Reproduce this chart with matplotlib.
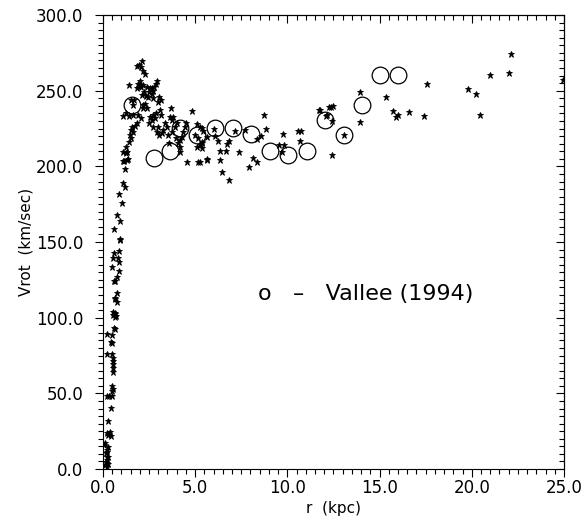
import matplotlib
matplotlib.use("Agg")
import matplotlib.pyplot as plt
from matplotlib.ticker import MultipleLocator, FormatStrFormatter

# rotation curve points (r in kpc, Vrot in km/sec)
star_r = [
    # inner rise
    0.05, 0.11, 0.29, 0.23, 0.16, 0.20, 0.23, 0.20, 0.11, 0.23, 0.29, 0.16, 0.29, 0.20,
    0.23, 0.29, 0.34, 0.38, 0.42, 0.29, 0.43,
    0.20, 0.34, 0.47, 0.49, 0.53, 0.49,
    0.49, 0.53, 0.53, 0.53, 0.53, 0.53, 0.23,
    0.42, 0.47, 0.23, 0.47, 0.65, 0.60,
    0.65, 0.56, 0.70, 0.56, 0.65, 0.65,
    0.65, 0.74, 0.67, 0.74,
    0.78, 0.65, 0.60, 0.85, 0.47,
    0.89, 0.60, 0.56, 0.83, 0.87,
    0.92, 0.90, 0.60, 0.90, 0.74,
    1.01, 0.89, 1.07, 1.19,
    1.10, 1.25, 1.34, 1.10, 1.19, 1.29, 1.25, 1.14, 1.32,
    # peak region
    1.43, 1.46, 1.50, 1.52, 1.56, 1.61, 1.74, 1.83,
    1.25, 1.10, 1.43, 1.61, 1.91, 2.04,
    1.52, 1.70, 1.64,
    2.15, 2.28, 2.19, 2.37,
    2.22, 2.10, 2.32, 2.46, 2.64, 2.73,
    1.43, 2.19, 2.37, 2.55, 2.67, 2.49, 2.78, 2.73, 2.94, 2.87,
    1.99, 1.90, 2.00, 2.06, 1.83,
    2.19, 2.28, 1.86, 1.97, 2.04, 2.13,
    3.05, 3.13, 3.00, 3.67,
    2.55, 2.73, 2.87, 2.64, 2.51, 2.82, 3.09, 3.15,
    3.63, 3.72, 3.81,
    3.36, 3.45, 3.27, 3.00, 3.18, 2.91, 2.73, 3.05,
    3.54, 3.72, 3.90, 4.00, 3.96, 4.18, 4.27, 4.08, 4.18, 4.36, 4.45, 4.50,
    3.58, 4.18, 4.81,
    5.08, 5.26, 4.99, 5.17, 5.35, 5.08, 5.26, 5.62,
    4.54, 5.17, 5.62,
    # flat part
    5.26, 5.35, 5.40, 5.35, 5.35, 5.62,
    6.02, 6.07, 6.22, 6.34, 6.44, 6.83, 6.33, 6.67, 6.75, 6.85, 7.16,
    7.70, 7.39, 8.12, 8.35, 7.93, 8.35, 8.55, 8.75, 8.84,
    9.74, 9.56, 9.82, 9.71, 10.59, 10.75, 10.70,
    11.71, 11.77, 12.13, 12.27, 12.11, 12.36, 12.49, 12.44, 12.42, 13.07,
    13.94, 13.94, 15.33, 15.73, 15.89, 15.98, 16.58, 17.42, 17.57,
    19.80, 20.23, 20.43, 21.00, 22.00, 22.13, 24.96,
]
star_v = [
    15.9, 17.0, 14.7, 12.6, 10.4, 8.1, 6.0, 3.8, 2.6, 1.5, 3.3, 4.8, 8.1, 11.4,
    24.0, 22.5, 23.1, 24.7, 21.8, 31.9, 40.1,
    48.2, 48.2, 48.2, 54.9, 52.7, 51.6,
    75.8, 73.6, 71.4, 69.2, 67.0, 64.3, 75.8,
    83.7, 83.1, 89.2, 88.6, 92.3, 93.0,
    103.3, 101.8, 101.1, 103.6, 102.4, 100.7,
    113.2, 110.6, 112.2, 116.6,
    127.1, 124.5, 124.3, 131.1, 133.3,
    144.1, 142.6, 139.7, 139.3, 137.0,
    151.4, 164.1, 158.4, 152.0, 167.9,
    175.6, 181.6, 188.8, 186.6,
    209.7, 208.7, 204.9, 203.6, 198.3, 209.3, 213.0, 203.6, 204.0,
    216.3, 220.8, 218.6, 224.0, 226.2, 222.9, 226.9, 228.5,
    235.1, 233.3, 233.3, 234.0, 234.0, 232.2,
    243.9, 243.9, 240.6,
    240.6, 241.0, 238.4, 238.8,
    249.4, 247.2, 246.7, 246.1, 247.7, 245.0,
    253.8, 253.8, 252.3, 251.6, 252.0, 249.4, 252.3, 250.0, 256.6, 254.5,
    256.6, 254.5, 252.9, 252.3, 251.6,
    263.3, 261.3, 266.4, 267.0, 265.5, 269.9,
    245.7, 243.9, 242.8, 238.4,
    232.9, 234.0, 235.1, 230.7, 228.5, 231.8, 237.3, 234.0,
    232.9, 230.7, 232.9,
    228.5, 226.2, 224.1, 226.2, 221.9, 222.9, 226.2, 220.8,
    220.8, 222.9, 226.2, 228.5, 218.6, 217.4, 219.6, 215.3, 213.0, 222.9, 226.2, 228.5,
    215.3, 209.7, 236.6,
    228.0, 226.2, 220.8, 218.6, 215.3, 213.0, 214.1, 219.6,
    203.1, 202.7, 204.9,
    203.1, 225.2, 223.6, 216.0, 212.0, 204.2,
    224.7, 220.0, 216.6, 204.2, 196.1, 191.0, 210.2, 210.4, 215.0, 217.0, 223.6,
    224.3, 209.5, 205.4, 202.7, 199.4, 217.9, 220.3, 233.8, 224.9,
    221.6, 214.1, 214.1, 209.7, 223.2, 223.6, 217.0,
    237.3, 237.3, 233.8, 239.5, 233.5, 239.5, 239.9, 230.2, 207.5, 221.0,
    249.0, 229.1, 246.1, 236.8, 232.5, 233.8, 236.2, 233.3, 254.3,
    251.2, 247.6, 233.8, 260.4, 261.7, 274.3, 257.3,
]

# Vallee (1994)
vallee_r = [1.6, 2.75, 3.65, 4.2, 5.1, 6.1, 7.05, 8.05, 9.05, 10.05,
            11.05, 12.05, 13.05, 14.05, 15.0, 16.0]
vallee_v = [240.5, 205.5, 210.5, 225.5, 221.0, 225.5, 225.5, 221.5, 210.5, 207.5,
            210.5, 230.5, 220.5, 240.5, 260.5, 260.5]

plt.rcParams['font.family'] = 'DejaVu Sans'
plt.rcParams['axes.linewidth'] = 0.8

fig = plt.figure(figsize=(5.85, 5.2), dpi=100)
ax = fig.add_axes([0.176, 0.098, 0.788, 0.873])

ax.plot(star_r, star_v, linestyle='none', marker='*', markersize=5,
        color='black', markeredgewidth=0.6)
ax.plot(vallee_r, vallee_v, linestyle='none', marker='o', markersize=12,
        markerfacecolor='none', markeredgecolor='black', markeredgewidth=0.9)

ax.set_xlim(0, 25)
ax.set_ylim(0, 300)
ax.xaxis.set_major_locator(MultipleLocator(5))
ax.xaxis.set_minor_locator(MultipleLocator(0.5))
ax.yaxis.set_major_locator(MultipleLocator(50))
ax.yaxis.set_minor_locator(MultipleLocator(5))
ax.xaxis.set_major_formatter(FormatStrFormatter('%.1f'))
ax.yaxis.set_major_formatter(FormatStrFormatter('%.1f'))
ax.tick_params(which='major', direction='out', length=6, width=0.8, labelsize=12)
ax.tick_params(which='minor', direction='out', length=3.5, width=0.8)
ax.tick_params(axis='x', which='major', pad=1.5)
ax.tick_params(axis='y', which='major', pad=8)

# inward ticks on the top and right sides
top = ax.secondary_xaxis('top')
right = ax.secondary_yaxis('right')
for sec, axis in ((top, top.xaxis), (right, right.yaxis)):
    axis.set_major_locator(MultipleLocator(5 if sec is top else 50))
    axis.set_minor_locator(MultipleLocator(0.5 if sec is top else 5))
    sec.tick_params(which='major', direction='in', length=6, width=0.8,
                    labelleft=False, labelright=False, labeltop=False, labelbottom=False)
    sec.tick_params(which='minor', direction='in', length=3.5, width=0.8)

ax.set_xlabel('r  (kpc)', fontsize=11, labelpad=2.5)
ax.set_ylabel('Vrot  (km/sec)', fontsize=11, labelpad=2)

ax.text(8.4, 116, 'o   \u2013   Vallee (1994)', fontsize=16, ha='left', va='center')

fig.savefig('out.png', dpi=100)
